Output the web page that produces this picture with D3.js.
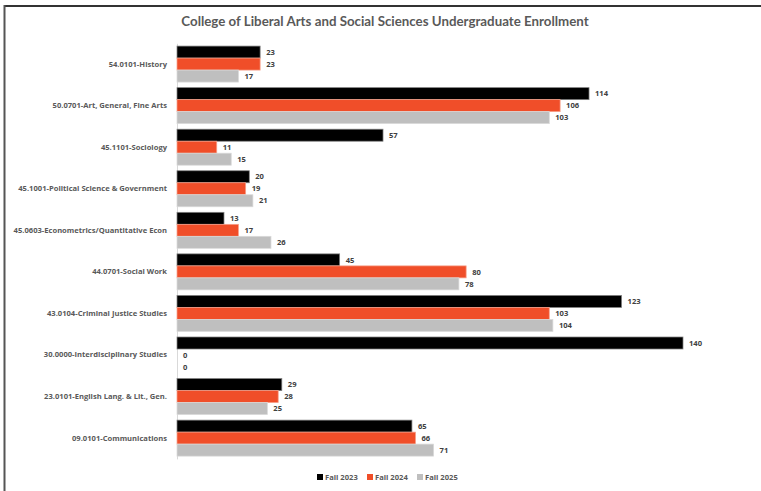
<!DOCTYPE html>
<html><head><meta charset="utf-8">
<script src="https://cdn.jsdelivr.net/npm/d3@7"></script>
<style>body{margin:0;background:#fff}svg{display:block}</style>
</head><body>
<script>
const categories = ["54.0101-History","50.0701-Art, General, Fine Arts","45.1101-Sociology","45.1001-Political Science & Government","45.0603-Econometrics/Quantitative Econ","44.0701-Social Work","43.0104-Criminal Justice Studies","30.0000-Interdisciplinary Studies","23.0101-English Lang. & Lit., Gen.","09.0101-Communications"];
const seriesNames = ["Fall 2023","Fall 2024","Fall 2025"];
const fall2023 = [23,114,57,20,13,45,123,140,29,65];
const fall2024 = [23,106,11,19,17,80,103,0,28,66];
const fall2025 = [17,103,15,21,26,78,104,0,25,71];
const seriesValues = [fall2023, fall2024, fall2025];
const colors = ["#000000","#F04E29","#BFBFBF"];
const strokes = ["#7f7f7f","#f7a08a","#d9d9d9"];

const W=761,H=491;
const svg=d3.select("body").append("svg").attr("width",W).attr("height",H);
const font="Lato, sans-serif";
const sfont="'Open Sans', sans-serif";
const txt="#595959";

// frame
svg.append("line").attr("x1",4).attr("x2",W).attr("y1",6).attr("y2",6).attr("stroke","#333").attr("stroke-width",2);
svg.append("line").attr("x1",4.5).attr("x2",4.5).attr("y1",5).attr("y2",H).attr("stroke","#555").attr("stroke-width",2);

svg.append("text").attr("x",385).attr("y",26).attr("text-anchor","middle")
  .attr("font-family",font).attr("font-weight","bold").attr("font-size",13.3).attr("fill",txt)
  .text("College of Liberal Arts and Social Sciences Undergraduate Enrollment");

const x=d3.scaleLinear().domain([0,140]).range([177,683]);
const y=d3.scaleBand().domain(categories).range([43.3,458.9]).paddingInner(0.134).paddingOuter(0.067);
const y1=d3.scaleBand().domain(seriesNames).range([0,y.bandwidth()]);

// axis
const ax=svg.append("g").attr("transform","translate(177,0)").call(d3.axisLeft(y).tickSize(0).tickPadding(10));
ax.select(".domain").attr("stroke","#d9d9d9").attr("stroke-width",1);
ax.selectAll("text").attr("font-family",sfont).attr("font-weight","bold").attr("font-size",7.6).attr("fill",txt);

const g=svg.append("g");
categories.forEach((c,i)=>{
  seriesNames.forEach((s,j)=>{
    const v=seriesValues[j][i];
    const yy=y(c)+y1(s);
    if(v>0){
      g.append("rect").attr("x",x(0)).attr("y",yy).attr("width",x(v)-x(0)).attr("height",y1.bandwidth())
        .attr("fill",colors[j]).attr("stroke",strokes[j]).attr("stroke-width",0.75);
    }
    g.append("text").attr("x",x(v)+6).attr("y",yy+y1.bandwidth()/2).attr("dy","0.35em")
      .attr("font-family",sfont).attr("font-weight","bold").attr("font-size",7.6).attr("fill","#404040").text(v);
  });
});

// legend
const lx=[317,367,417];
seriesNames.forEach((s,j)=>{
  svg.append("rect").attr("x",lx[j]).attr("y",474).attr("width",6).attr("height",6).attr("fill",colors[j]);
  svg.append("text").attr("x",lx[j]+8).attr("y",477).attr("dy","0.35em")
    .attr("font-family",sfont).attr("font-weight","bold").attr("font-size",7.6).attr("fill",txt).text(s);
});
</script>
</body></html>
